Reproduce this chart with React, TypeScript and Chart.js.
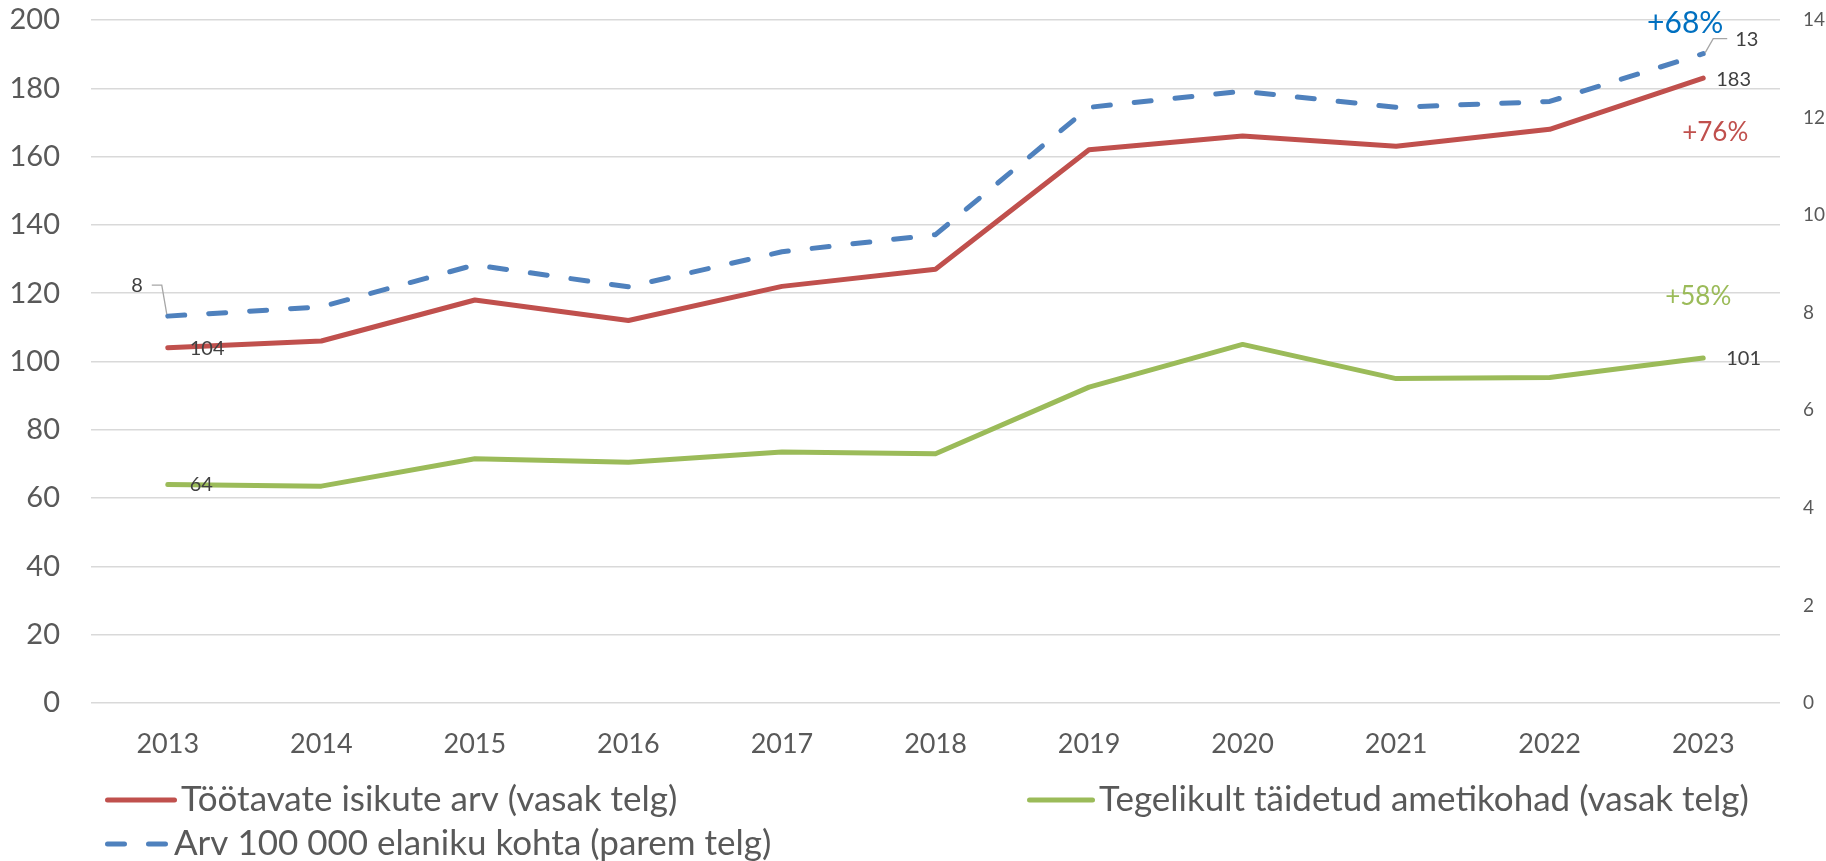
import React, { useEffect, useRef } from "react";
import { Chart, registerables } from "chart.js";

Chart.register(...registerables);

const years = ["2013", "2014", "2015", "2016", "2017", "2018", "2019", "2020", "2021", "2022", "2023"];
const employed = [104, 106, 118, 112, 122, 127, 162, 166, 163, 168, 183];
const filledPosts = [64, 63.5, 71.5, 70.5, 73.5, 73, 92.5, 105, 95, 95.3, 101];
const per100k = [7.93, 8.12, 8.98, 8.53, 9.25, 9.6, 12.21, 12.54, 12.21, 12.33, 13.31];
const seriesLabels = [
  "Töötavate isikute arv (vasak telg)",
  "Tegelikult täidetud ametikohad (vasak telg)",
  "Arv 100 000 elaniku kohta (parem telg)",
];
const growthLabels = ["+76%", "+58%", "+68%"];
const leftMax = 200;
const leftStep = 20;
const rightMax = 14;
const rightStep = 2;

const RED = "#C0504D";
const GREEN = "#9BBB59";
const BLUE = "#4F81BD";
const TEXT = "#595959";
const LABEL = "#404040";
const FONT = "Lato";

const overlayPlugin = {
  id: "overlay",
  afterDatasetsDraw(chart: any) {
    const ctx = chart.ctx;
    const yl = chart.scales.y;
    const red = chart.getDatasetMeta(0).data;
    const green = chart.getDatasetMeta(1).data;
    const blue = chart.getDatasetMeta(2).data;
    const n = red.length - 1;
    ctx.save();
    ctx.textBaseline = "middle";
    ctx.fillStyle = LABEL;
    ctx.font = `20px ${FONT}`;
    ctx.textAlign = "left";
    ctx.fillText(String(Math.round(employed[0])), red[0].x + 22, red[0].y + 1);
    ctx.fillText(String(Math.round(filledPosts[0])), green[0].x + 22, green[0].y);
    ctx.fillText(String(Math.round(employed[n])), red[n].x + 13, red[n].y + 1);
    ctx.fillText(String(Math.round(filledPosts[n])), green[n].x + 23, green[n].y);
    ctx.fillText(String(Math.round(per100k[n])), blue[n].x + 32, blue[n].y - 14);
    ctx.textAlign = "right";
    ctx.fillText(String(Math.round(per100k[0])), blue[0].x - 25, blue[0].y - 31);
    // leader lines
    ctx.strokeStyle = "#A6A6A6";
    ctx.lineWidth = 1.3;
    ctx.beginPath();
    ctx.moveTo(blue[0].x - 16, blue[0].y - 31);
    ctx.lineTo(blue[0].x - 6, blue[0].y - 31);
    ctx.lineTo(blue[0].x - 1, blue[0].y - 2);
    ctx.stroke();
    ctx.beginPath();
    ctx.moveTo(blue[n].x + 2, blue[n].y - 1);
    ctx.lineTo(blue[n].x + 10, blue[n].y - 15);
    ctx.lineTo(blue[n].x + 24, blue[n].y - 15);
    ctx.stroke();
    // growth labels
    ctx.textAlign = "center";
    ctx.font = `30px ${FONT}`;
    ctx.fillStyle = "#0070C0";
    ctx.fillText(growthLabels[2], red[n].x - 18, yl.getPixelForValue(199));
    ctx.font = `26px ${FONT}`;
    ctx.fillStyle = RED;
    ctx.fillText(growthLabels[0], red[n].x + 12, yl.getPixelForValue(167));
    ctx.fillStyle = GREEN;
    ctx.fillText(growthLabels[1], red[n].x - 5, yl.getPixelForValue(119));
    ctx.restore();
  },
  afterDraw(chart: any) {
    const ctx = chart.ctx;
    ctx.save();
    ctx.textBaseline = "middle";
    ctx.textAlign = "left";
    ctx.font = `35px ${FONT}`;
    ctx.fillStyle = TEXT;
    ctx.lineWidth = 5;
    ctx.lineCap = "round";
    const items = [
      { color: RED, dash: [] as number[], x: 105, y: 800, len: 72, label: seriesLabels[0] },
      { color: GREEN, dash: [] as number[], x: 1027, y: 800, len: 68, label: seriesLabels[1] },
      { color: BLUE, dash: [17, 24], x: 105, y: 844, len: 65, label: seriesLabels[2] },
    ];
    for (const it of items) {
      ctx.strokeStyle = it.color;
      ctx.setLineDash(it.dash);
      ctx.beginPath();
      ctx.moveTo(it.x + 2.5, it.y);
      ctx.lineTo(it.x + it.len - 2.5, it.y);
      ctx.stroke();
      ctx.setLineDash([]);
      ctx.fillText(it.label, it.x + it.len + 4, it.y);
    }
    ctx.restore();
  },
};

export default function App() {
  const ref = useRef<HTMLCanvasElement | null>(null);
  useEffect(() => {
    document.body.style.margin = "0";
    if (!ref.current) return;
    Chart.defaults.font.family = FONT;
    const chart = new Chart(ref.current, {
      type: "line",
      data: {
        labels: years,
        datasets: [
          {
            label: seriesLabels[0],
            data: employed,
            borderColor: RED,
            borderWidth: 5,
            pointRadius: 0,
            borderCapStyle: "round",
            borderJoinStyle: "round",
            yAxisID: "y",
          },
          {
            label: seriesLabels[1],
            data: filledPosts,
            borderColor: GREEN,
            borderWidth: 5,
            pointRadius: 0,
            borderCapStyle: "round",
            borderJoinStyle: "round",
            yAxisID: "y",
          },
          {
            label: seriesLabels[2],
            data: per100k,
            borderColor: BLUE,
            borderWidth: 5,
            borderDash: [17, 24],
            pointRadius: 0,
            borderCapStyle: "round",
            borderJoinStyle: "round",
            yAxisID: "y2",
          },
        ],
      },
      options: {
        animation: false,
        responsive: true,
        maintainAspectRatio: false,
        layout: { padding: { top: 20, left: 0, right: 0, bottom: 0 } },
        plugins: { legend: { display: false }, tooltip: { enabled: false } },
        scales: {
          x: {
            offset: true,
            grid: { display: false, drawTicks: false },
            border: { display: false },
            ticks: { font: { size: 27, family: FONT }, color: TEXT, padding: 25, maxRotation: 0 },
            afterFit: (s: any) => {
              s.height = 158;
              s.paddingLeft = 0;
              s.paddingRight = 0;
            },
          },
          y: {
            position: "left",
            min: 0,
            max: leftMax,
            grid: { color: "#D9D9D9", lineWidth: 1.5, drawTicks: false },
            border: { display: false },
            ticks: { stepSize: leftStep, font: { size: 29, family: FONT }, color: TEXT, padding: 31 },
            afterFit: (s: any) => {
              s.width = 91;
              s.paddingTop = 0;
              s.paddingBottom = 0;
            },
          },
          y2: {
            position: "right",
            min: 0,
            max: rightMax,
            grid: { display: false, drawTicks: false },
            border: { display: false },
            ticks: { stepSize: rightStep, font: { size: 19, family: FONT }, color: TEXT, padding: 23 },
            afterFit: (s: any) => {
              s.width = 46;
              s.paddingTop = 0;
              s.paddingBottom = 0;
            },
          },
        },
      },
      plugins: [overlayPlugin],
    });
    return () => chart.destroy();
  }, []);
  return (
    <div style={{ position: "absolute", left: 0, top: 0, width: 1826, height: 861 }}>
      <canvas ref={ref} />
    </div>
  );
}
